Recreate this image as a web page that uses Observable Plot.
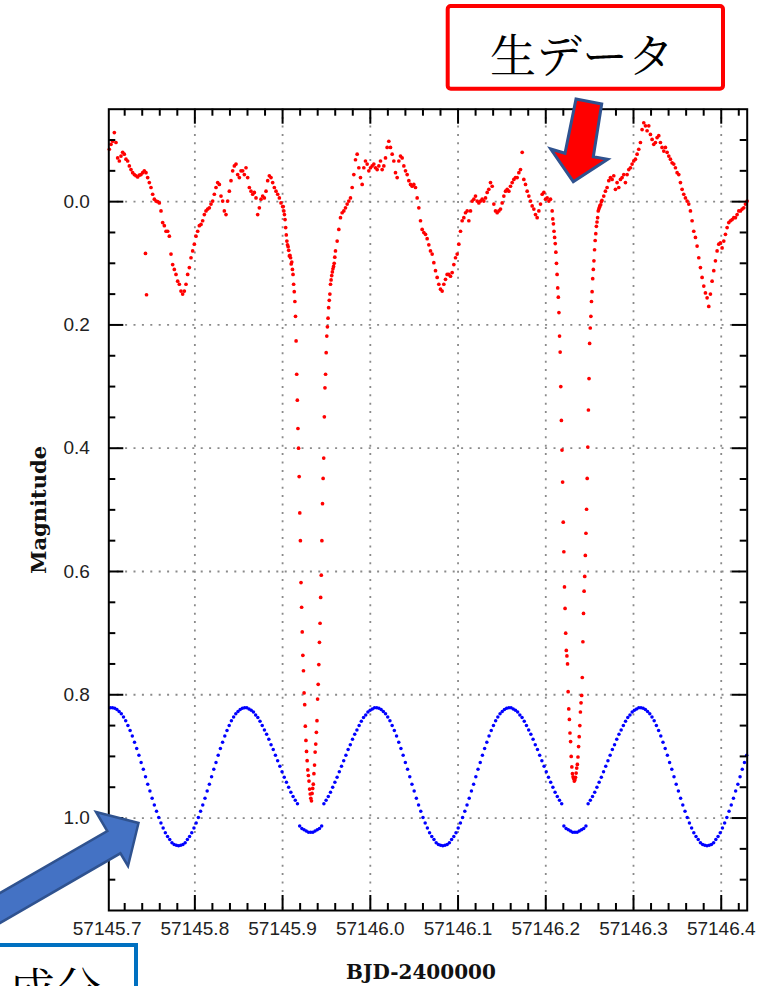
<!DOCTYPE html>
<html>
<head>
<meta charset="utf-8">
<script src="https://cdn.jsdelivr.net/npm/d3@7"></script>
<script src="https://cdn.jsdelivr.net/npm/@observablehq/plot@0.6"></script>
<style>
html, body { margin: 0; padding: 0; background: #fff; }
#wrap { position: relative; width: 769px; height: 986px; overflow: hidden; }
#chart { position: absolute; left: 0; top: 0; }
#notes { position: absolute; left: 0; top: 0; }
</style>
</head>
<body>
<div id="wrap">
  <div id="chart"></div>
  <svg id="notes" width="769" height="986" xmlns="http://www.w3.org/2000/svg">
    <rect x="447.7" y="6" width="275.3" height="82.7" rx="3" fill="#ffffff" stroke="#ff0000" stroke-width="4"></rect>
    <text x="582" y="52" text-anchor="middle" dominant-baseline="central" font-family="'Noto Serif CJK JP','Noto Sans CJK JP',sans-serif" font-size="46" fill="#000">生データ</text>
    <polygon points="576,99 601.7,104 593.3,156.7 607.7,159.3 573.3,181.7 550.7,149 565,153.3" fill="#ff0000" stroke="#2f528f" stroke-width="3" stroke-linejoin="miter"></polygon>
    <polygon points="-5,895.9 107.3,831.1 96,812 138.5,823 128,866 120.4,853.3 -5,925.9" fill="#4472c4" stroke="#2f528f" stroke-width="2.5" stroke-linejoin="miter"></polygon>
    <rect x="-10" y="945" width="146" height="80" fill="#ffffff" stroke="#0070c0" stroke-width="4"></rect>
    <text x="101" y="1006" text-anchor="end" font-family="'Noto Serif CJK JP','Noto Sans CJK JP',sans-serif" font-size="46" fill="#000">成分</text>
  </svg>
</div>
<script>
// ---- axis / tick values ----
const xDomain = [57145.7019, 57146.4296];
const yDomain = [-0.15, 1.15];
const xLabelTicks = [57145.7, 57145.8, 57145.9, 57146.0, 57146.1, 57146.2, 57146.3, 57146.4];
const xMajor = [57145.8, 57145.9, 57146.0, 57146.1, 57146.2, 57146.3, 57146.4];
const xMinor = [57145.72, 57145.74, 57145.76, 57145.78, 57145.82, 57145.84, 57145.86, 57145.88,
  57145.92, 57145.94, 57145.96, 57145.98, 57146.02, 57146.04, 57146.06, 57146.08,
  57146.12, 57146.14, 57146.16, 57146.18, 57146.22, 57146.24, 57146.26, 57146.28,
  57146.32, 57146.34, 57146.36, 57146.38, 57146.42];
const yMajor = [0.0, 0.2, 0.4, 0.6, 0.8, 1.0];
const yMinor = [-0.1, -0.05, 0.05, 0.1, 0.15, 0.25, 0.3, 0.35, 0.45, 0.5, 0.55, 0.65, 0.7, 0.75,
  0.85, 0.9, 0.95, 1.05, 1.1];
const xTitle = "BJD-2400000";
const yTitle = "Magnitude";

// ---- raw data (red): segments with start time and cadence ----
const rawSegStart = [57145.7025, 57145.9007, 57145.9603, 57146.2073, 57146.2661];
const rawSegStep = [0.0019, 0.0007, 0.0019, 0.0007, 0.0019];
const rawSeg1Mag = [
-0.085,-0.093,-0.098,-0.112,-0.096,-0.071,-0.066,-0.074,-0.080,-0.077,
-0.069,-0.066,-0.058,-0.052,-0.047,-0.044,-0.042,-0.040,-0.043,-0.044,
-0.047,-0.050,-0.047,-0.039,-0.031,-0.023,-0.012,-0.004,-0.001,0.000,
0.002,0.015,0.034,0.039,0.048,0.048,0.056,0.085,0.102,0.110,
0.118,0.129,0.134,0.145,0.150,0.145,0.134,0.118,0.107,0.091,
0.080,0.069,0.056,0.048,0.039,0.037,0.031,0.021,0.015,0.012,
0.010,0.004,-0.001,-0.012,-0.023,-0.031,-0.028,-0.009,-0.001,0.015,
0.021,-0.001,-0.017,-0.034,-0.050,-0.058,-0.061,-0.044,-0.039,-0.050,
-0.050,-0.044,-0.055,-0.039,-0.023,-0.017,-0.012,-0.015,-0.006,0.021,
0.010,-0.004,-0.009,-0.006,-0.017,-0.034,-0.042,-0.039,-0.031,-0.023,
-0.017,-0.012,-0.006,0.002,0.008];
const rawEclipse1Mag = [
0.008,0.015,0.021,0.029,0.042,0.054,0.064,0.070,0.073,0.079,
0.088,0.087,0.091,0.101,0.098,0.110,0.118,0.134,0.146,0.162,
0.186,0.226,0.280,0.322,0.368,0.400,0.446,0.505,0.550,0.618,
0.658,0.698,0.736,0.761,0.797,0.816,0.851,0.874,0.892,0.907,
0.922,0.931,0.940,0.953,0.961,0.968,0.972,0.960,0.952,0.945,
0.928,0.914,0.893,0.880,0.861,0.842,0.807,0.783,0.751,0.715,
0.684,0.642,0.606,0.550,0.490,0.449,0.416,0.349,0.302,0.280,
0.245,0.218,0.203,0.189,0.172,0.160,0.150,0.134,0.127,0.120,
0.114,0.109,0.105,0.100,0.090];
const rawSeg2Mag = [
0.080,0.064,0.045,0.026,0.018,0.015,0.010,0.004,-0.001,-0.006,
-0.023,-0.044,-0.068,-0.077,-0.055,-0.039,-0.028,-0.055,-0.066,-0.061,
-0.050,-0.055,-0.058,-0.061,-0.055,-0.052,-0.058,-0.066,-0.052,-0.058,
-0.071,-0.088,-0.098,-0.088,-0.077,-0.066,-0.047,-0.039,-0.066,-0.074,
-0.071,-0.058,-0.050,-0.044,-0.034,-0.028,-0.025,-0.028,-0.023,-0.006,
0.010,0.031,0.045,0.050,0.053,0.060,0.070,0.080,0.085,0.099,
0.112,0.123,0.134,0.142,0.145,0.134,0.126,0.118,0.118,0.121,
0.115,0.102,0.091,0.085,0.069,0.048,0.031,0.026,0.018,0.015,
0.031,0.015,-0.001,-0.004,-0.009,-0.001,0.002,-0.001,-0.004,-0.001,
-0.006,-0.015,-0.020,-0.031,-0.025,0.004,0.015,0.018,0.015,0.012,
0.002,-0.009,-0.017,-0.020,-0.017,-0.025,-0.031,-0.036,-0.039,-0.039,
-0.047,-0.052,-0.080,-0.036,-0.028,-0.017,-0.009,-0.001,0.007,0.012,
0.021,0.026,0.015,0.004,-0.012,-0.015,-0.004,-0.006,-0.001,-0.004];
const rawEclipse2Mag = [
0.015,0.028,0.036,0.048,0.058,0.068,0.082,0.100,0.118,0.140,
0.155,0.180,0.218,0.244,0.300,0.355,0.403,0.455,0.520,0.568,
0.625,0.660,0.700,0.728,0.737,0.750,0.795,0.823,0.840,0.862,
0.876,0.900,0.917,0.928,0.933,0.936,0.940,0.938,0.934,0.927,
0.919,0.913,0.901,0.884,0.868,0.850,0.828,0.813,0.801,0.772,
0.714,0.668,0.632,0.608,0.574,0.538,0.499,0.449,0.398,0.338,
0.287,0.230,0.205,0.186,0.162,0.146,0.125,0.110,0.096,0.078,
0.063,0.052,0.040,0.033,0.026,0.015,0.012,0.009,0.006,0.005,
0.000,-0.002];
const rawSeg3Mag = [
-0.009,-0.017,-0.023,-0.034,-0.039,-0.036,-0.042,-0.020,-0.031,-0.023,
-0.036,-0.039,-0.044,-0.031,-0.044,-0.052,-0.055,-0.061,-0.066,-0.069,
-0.077,-0.085,-0.096,-0.117,-0.128,-0.123,-0.115,-0.123,-0.109,-0.101,
-0.093,-0.096,-0.104,-0.107,-0.096,-0.088,-0.082,-0.088,-0.080,-0.074,
-0.069,-0.063,-0.061,-0.055,-0.047,-0.044,-0.031,-0.020,-0.012,-0.006,
-0.001,0.004,0.015,0.031,0.048,0.058,0.072,0.091,0.107,0.123,
0.137,0.148,0.156,0.170,0.150,0.129,0.112,0.096,0.080,0.069,
0.067,0.075,0.064,0.053,0.042,0.034,0.031,0.029,0.026,0.026,
0.021,0.015,0.015,0.012,0.010,0.004,-0.001];
const rawOutlierT = [57145.7437, 57145.7449];
const rawOutlierMag = [0.084, 0.151];

// ---- extracted component (blue): regular cadence ----
const modelStart = 57145.7036;
const modelStep = 0.00251;
const modelMag = [
0.821,
0.821,0.822,0.824,0.827,0.831,0.836,0.842,0.850,0.858,0.867,
0.877,0.887,0.898,0.910,0.921,0.933,0.945,0.956,0.968,0.979,
0.989,0.999,1.008,1.016,1.024,1.030,1.035,1.040,1.043,1.044,
1.045,1.044,1.043,1.040,1.035,1.030,1.024,1.016,1.008,0.999,
0.989,0.979,0.968,0.956,0.945,0.933,0.921,0.910,0.898,0.887,
0.877,0.867,0.858,0.850,0.842,0.836,0.831,0.827,0.824,0.822,
0.821,0.821,0.823,0.825,0.828,0.833,0.837,0.843,0.850,0.857,
0.864,0.872,0.881,0.889,0.898,0.907,0.916,0.925,0.934,0.942,
0.950,0.958,0.965,0.971,0.977,
1.013,1.017,1.019,1.021,1.023,1.023,1.023,1.021,1.019,1.017,1.013,
0.977,0.971,0.965,0.958,0.950,0.942,0.934,0.925,0.916,0.907,
0.898,0.889,0.881,0.872,0.864,0.857,0.850,0.843,0.837,0.833,
0.828,0.825,0.823,0.821,
0.821,0.822,0.824,0.827,0.831,0.836,0.842,0.850,0.858,0.867,
0.877,0.887,0.898,0.910,0.921,0.933,0.945,0.956,0.968,0.979,
0.989,0.999,1.008,1.016,1.024,1.030,1.035,1.040,1.043,1.044,
1.045,1.044,1.043,1.040,1.035,1.030,1.024,1.016,1.008,0.999,
0.989,0.979,0.968,0.956,0.945,0.933,0.921,0.910,0.898,0.887,
0.877,0.867,0.858,0.850,0.842,0.836,0.831,0.827,0.824,0.822,
0.821,0.821,0.823,0.825,0.828,0.833,0.837,0.843,0.850,0.857,
0.864,0.872,0.881,0.889,0.898,0.907,0.916,0.925,0.934,0.942,
0.950,0.958,0.965,0.971,0.977,
1.013,1.017,1.019,1.021,1.023,1.023,1.023,1.021,1.019,1.017,1.013,
0.977,0.971,0.965,0.958,0.950,0.942,0.934,0.925,0.916,0.907,
0.898,0.889,0.881,0.872,0.864,0.857,0.850,0.843,0.837,0.833,
0.828,0.825,0.823,0.821,
0.821,0.822,0.824,0.827,0.831,0.836,0.842,0.850,0.858,0.867,
0.877,0.887,0.898,0.910,0.921,0.933,0.945,0.956,0.968,0.979,
0.989,0.999,1.008,1.016,1.024,1.030,1.035,1.040,1.043,1.044,
1.045,1.044,1.043,1.040,1.035,1.030,1.024,1.016,1.008,0.999,
0.989,0.979,0.968,0.956,0.945,0.933,0.921,0.910,0.898];

// ---- build tables ----
const rawSegs = [rawSeg1Mag, rawEclipse1Mag, rawSeg2Mag, rawEclipse2Mag, rawSeg3Mag];
const raw = rawSegs.flatMap((mags, s) => mags.map((m, i) => ({t: rawSegStart[s] + i * rawSegStep[s], mag: m})))
  .concat(rawOutlierT.map((t, i) => ({t, mag: rawOutlierMag[i]})));
const model = modelMag.map((m, i) => ({t: modelStart + i * modelStep, mag: m}));

const W = 769, H = 986;
const mL = 108.3, mR = 22.3, mT = 108.7, mB = 76;
const frameW = W - mL - mR, frameH = H - mT - mB;
const majorLen = 15, minorLen = 7;
const tickStyle = {stroke: "#000", strokeWidth: 2};
const gridStyle = {stroke: "#8a8a8a", strokeOpacity: 1, strokeWidth: 1.8, strokeDasharray: "2,6.4"};

const chart = Plot.plot({
  width: W,
  height: H,
  marginLeft: mL,
  marginRight: mR,
  marginTop: mT,
  marginBottom: mB,
  style: {background: "transparent", fontFamily: "'Liberation Sans', Arial, Helvetica, sans-serif", color: "#222"},
  x: {domain: xDomain, label: null},
  y: {domain: yDomain, reverse: true, label: null},
  marks: [
    Plot.gridX(xMajor, gridStyle),
    Plot.gridY(yMajor, gridStyle),
    Plot.dot(raw, {x: "t", y: "mag", r: 1.85, fill: "#ff0000"}),
    Plot.dot(model, {x: "t", y: "mag", r: 1.75, fill: "#0000ff"}),
    Plot.ruleX(xMajor, {x: d => d, insetTop: frameH - majorLen, ...tickStyle}),
    Plot.ruleX(xMajor, {x: d => d, insetBottom: frameH - majorLen, ...tickStyle}),
    Plot.ruleX(xMinor, {x: d => d, insetTop: frameH - minorLen, ...tickStyle}),
    Plot.ruleX(xMinor, {x: d => d, insetBottom: frameH - minorLen, ...tickStyle}),
    Plot.ruleY(yMajor, {y: d => d, insetRight: frameW - majorLen, ...tickStyle}),
    Plot.ruleY(yMajor, {y: d => d, insetLeft: frameW - majorLen, ...tickStyle}),
    Plot.ruleY(yMinor, {y: d => d, insetRight: frameW - minorLen, ...tickStyle}),
    Plot.ruleY(yMinor, {y: d => d, insetLeft: frameW - minorLen, ...tickStyle}),
    Plot.frame({stroke: "#000", strokeWidth: 2}),
    Plot.axisX(xLabelTicks, {anchor: "bottom", tickSize: 0, tickPadding: 11, tickFormat: d => d.toFixed(1), fontSize: 19, label: null}),
    Plot.axisY(yMajor, {anchor: "left", tickSize: 0, tickPadding: 19, tickFormat: d => d.toFixed(1), fontSize: 19, label: null}),
    Plot.text([xTitle], {text: d => d, frameAnchor: "bottom", textAnchor: "middle", dx: -7, dy: 62, lineAnchor: "middle", fontFamily: "'DejaVu Serif', serif", fontWeight: "bold", fontSize: 20, fill: "#111"}),
    Plot.text([yTitle], {text: d => d, frameAnchor: "left", textAnchor: "middle", dx: -70, rotate: -90, lineAnchor: "middle", fontFamily: "'DejaVu Serif', serif", fontWeight: "bold", fontSize: 21, fill: "#111"})
  ]
});
document.getElementById("chart").appendChild(chart);
</script>
</body>
</html>
